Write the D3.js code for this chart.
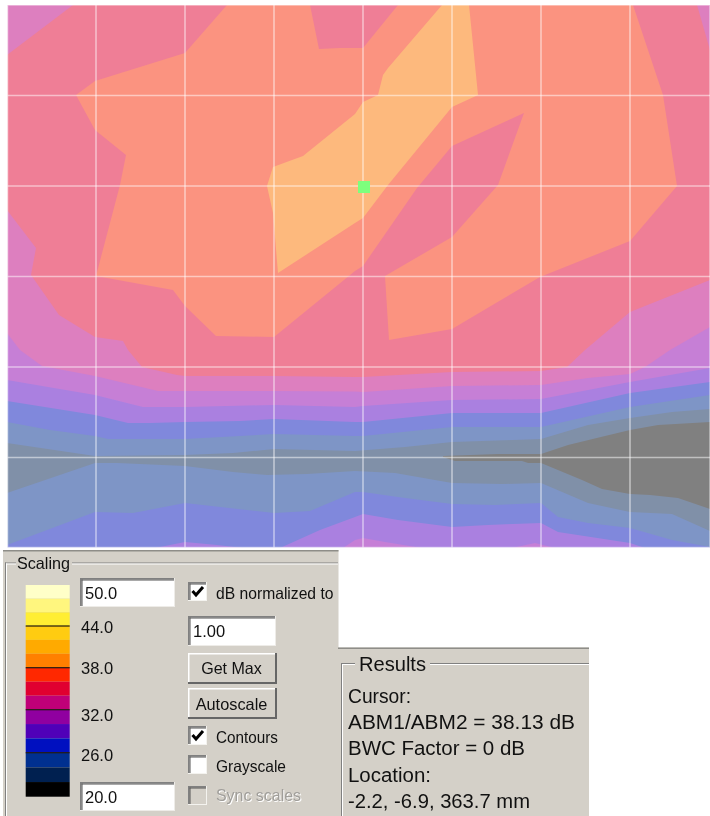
<!DOCTYPE html>
<html><head><meta charset="utf-8">
<script src="https://cdn.jsdelivr.net/npm/d3@7"></script>
<style>html,body{margin:0;padding:0;background:#fff;overflow:hidden}svg{display:block}text{font-family:"Liberation Sans",Arial,sans-serif}</style>
</head><body><svg id="c" width="710" height="816"></svg>
<script>
// --- DATA: scan positions are offsets from the cursor, grid pitch 89 x 90.5 scan units ---
const gridX = [-267,-178,-89,0,89,178,267];
const gridY = [90.5,0,-90.5,-181,-271.5];
const cursorPos = [0,0];

// Legend
const legendLevels = [50,48,46,44,42,40,38,36,34,32,30,28,26,24,22,20];
const legendColors = ["#ffffc8","#fff67e","#ffee33","#ffcc11","#ffaa00","#ff8000","#ff2800","#e00030","#c00078","#9000a0","#5000b8","#0010c0","#003090","#002050","#000000"];
const legendTicks = ["44.0","38.0","32.0","26.0"];
const legendTickLevels = [44,38,32,26];
const legendTickBaseOffsets = [7,6.3,11,8.3];

// Blended map colours, low to high
const bandColors = {low0:"#808080",low1:"#8090a8",low2:"#7e95c6",low3:"#8088dc",low4:"#aa80e0",low5:"#c67fd6",low6:"#dd7fbf",low7:"#ef7e96",low8:"#fb9380",low9:"#fdb97d"};

// Upper boundaries of the valley, [x,y] offsets, left to right
const upper1 = [[-356,-257],[-268,-270],[-178,-269],[-130,-267],[-89,-263],[-8,-265],[42,-261],[89,-256],[178,-253],[225,-239],[267,-232],[309,-226],[347,-223]];
const upper2 = [[-356,-236],[-313,-244],[-268,-250],[-255,-253],[-178,-253],[-123,-250],[-89,-248],[-8,-250],[0,-250],[89,-241],[178,-241],[267,-221],[347,-209]];
const upper3 = [[-356,-215],[-268,-229],[-235,-237],[-213,-237],[-178,-236],[-123,-235],[-89,-233],[-8,-236],[0,-236],[89,-227],[178,-227],[267,-207],[347,-196]];
const upper4 = [[-356,-194],[-268,-209],[-220,-221],[-178,-221],[-89,-219],[-8,-221],[0,-220],[89,-214],[178,-213],[267,-196],[347,-182]];
const upper5 = [[-356,-147],[-343,-164],[-321,-180],[-268,-190],[-205,-205],[-178,-205],[-89,-205],[-8,-205.5],[0,-206],[89,-200],[178,-199],[225,-192],[267,-188],[282,-181],[307,-164],[347,-141]];

// Lower boundaries of the valley
const lower1 = [[-356,-307],[-268,-277],[-246,-277],[-178,-280],[-130,-286],[-96,-289],[-56,-288],[-8,-285],[32,-287],[89,-297],[139,-298],[178,-297],[225,-317],[267,-326],[309,-328],[347,-345]];
const lower2 = [[-356,-359],[-268,-326],[-230,-327],[-178,-317],[-89,-327],[-53,-325],[-8,-306],[0,-306],[42,-312],[89,-318],[132,-319],[178,-317],[195,-331],[225,-337],[267,-342],[309,-354],[347,-361]];
const lower3a = [[-208,-362],[-178,-356],[-146,-359],[-120,-362]];
const lower3b = [[-83,-362],[-43,-344],[-8,-331],[0,-328],[35,-334],[89,-341],[125,-339],[178,-337],[195,-346],[267,-357],[282,-362]];
const lower4a = [[-20,-362],[-8,-354],[0,-352],[22,-356],[59,-362]];
const lower4b = [[149,-362],[172,-357],[192,-362]];

// Gray core (lowest contour)
const coreBand = [[80,-270],[135,-268],[178,-268],[205,-259],[242,-250],[267,-244],[295,-239],[347,-236],[347,-323],[315,-312],[287,-309],[267,-308],[239,-303],[219,-294],[178,-277],[165,-277],[159,-275],[92,-275],[80,-271]];

// Closed upper contours
const band7 = [[-290,181],[-356,131],[-356,-24],[-327,-62],[-332,-89],[-304,-129],[-268,-151],[-240,-155],[-235,-164],[-221,-181],[-186,-189],[-178,-190],[-89,-190],[-8,-191],[0,-191],[89,-186],[178,-185],[204,-181],[222,-164],[267,-126],[347,-94],[347,136],[334,181]];
const band8 = [[-136,181],[-178,133],[-268,105],[-287,91],[-268,56],[-237,31],[-243,1],[-267,-90],[-190,-104],[-178,-120],[-147,-150],[-89,-151],[-8,-85],[0,-80],[54,-2],[89,40],[161,73],[135,1],[89,-51],[22,-90],[26,-154],[89,-143],[177,-91],[267,-55],[314,0],[300,91],[270,181],[35,181],[0,138],[-8,138],[-23,138],[-44,137],[-53,181]];
const band9 = [[79,181],[106,181],[115,91],[89,79],[25,1],[0,-32],[-8,-37],[-85,-87],[-90,-27],[-96,0],[-90,19],[-60,30],[-8,72],[0,84],[15,91],[20,111],[25,118]];

// Text
const scalingTitle = "Scaling";
const resultsTitle = "Results";
const resultsLines = ["Cursor:","ABM1/ABM2 = 38.13 dB","BWC Factor = 0 dB","Location:","-2.2, -6.9, 363.7 mm"];
const maxValue = "50.0", minValue = "20.0", normValue = "1.00";

// --- SCALES ---
const plot = {l:7.5,r:710,t:5,b:547.5};
const x = d3.scaleLinear().domain([-355.5,347]).range([plot.l,plot.r]);
const y = d3.scaleLinear().domain([181,-361.5]).range([plot.t,plot.b]);
const yLegend = d3.scaleLinear().domain([50,44,38,32,26,20]).range([585,626,667.7,709.7,752.7,796.7]);
const line = d3.line().x(d=>x(d[0])).y(d=>y(d[1]));

const svg = d3.select("#c");
const defs = svg.append("defs");
defs.append("clipPath").attr("id","pc").append("rect")
  .attr("x",plot.l).attr("y",plot.t).attr("width",plot.r-plot.l).attr("height",plot.b-plot.t);
function blurFilter(id,sd){
  const f = defs.append("filter").attr("id",id).attr("filterUnits","userSpaceOnUse")
    .attr("x",0).attr("y",0).attr("width",710).attr("height",816).attr("color-interpolation-filters","sRGB");
  f.append("feGaussianBlur").attr("stdDeviation",sd);
}
blurFilter("soft",0.45);
blurFilter("softMap",0.4);

const map = svg.append("g").attr("clip-path","url(#pc)").append("g").attr("filter","url(#softMap)");
const xMin=-360,xMax=352,yTop=186,yBot=-370;
const ring = d=> line(d)+"Z";
const upperArea = d=> ring([[d[0][0]-5,d[0][1]],...d,[xMax,d[d.length-1][1]],[xMax,yTop],[xMin,yTop]]);
const lowerArea = d=> ring([[xMin,d[0][1]],...d,[xMax,d[d.length-1][1]],[xMax,yBot],[xMin,yBot]]);
const openBottom = d=> ring([...d,[d[d.length-1][0],yBot],[d[0][0],yBot]]);

map.append("rect").attr("x",plot.l-4).attr("y",plot.t-4).attr("width",plot.r-plot.l+8).attr("height",plot.b-plot.t+8).attr("fill",bandColors.low1);
const drawBand=(path,c)=>map.append("path").attr("d",path).attr("fill",c);

drawBand(upperArea(upper1),bandColors.low2);
drawBand(lowerArea(lower1),bandColors.low2);
drawBand(upperArea(upper2),bandColors.low3);
drawBand(lowerArea(lower2),bandColors.low3);
drawBand(upperArea(upper3),bandColors.low4);
drawBand(openBottom(lower3a),bandColors.low4);
drawBand(openBottom(lower3b),bandColors.low4);
drawBand(upperArea(upper4),bandColors.low5);
drawBand(openBottom(lower4a),bandColors.low5);
drawBand(openBottom(lower4b),bandColors.low5);
drawBand(upperArea(upper5),bandColors.low6);
drawBand(ring(band7),bandColors.low7);
drawBand(ring(band8),bandColors.low8);
drawBand(ring(band9),bandColors.low9);
drawBand(ring(coreBand),bandColors.low0);

// grid
const gridG = map.append("g").attr("stroke","#fff").attr("stroke-opacity",0.5).attr("stroke-width",1.6);
gridG.selectAll("line.v").data(gridX).join("line").attr("x1",d=>x(d)).attr("x2",d=>x(d)).attr("y1",plot.t).attr("y2",plot.b);
gridG.selectAll("line.h").data(gridY).join("line").attr("y1",d=>y(d)).attr("y2",d=>y(d)).attr("x1",plot.l).attr("x2",plot.r);
map.append("rect").attr("x",plot.l).attr("y",plot.t).attr("width",plot.r-plot.l).attr("height",plot.b-plot.t).attr("fill","none").attr("stroke","#fff").attr("stroke-opacity",0.5).attr("stroke-width",1.5);

// cursor marker
map.append("rect").attr("x",x(cursorPos[0])-5).attr("y",y(cursorPos[1])-5).attr("width",12).attr("height",12).attr("fill","#7dff7d");

// --- PANELS ---
const ui = svg.append("g").attr("filter","url(#soft)");
const FACE="#d4d0c8", DARK="#808080";
function rect(g,a,b,w,h,f){return g.append("rect").attr("x",a).attr("y",b).attr("width",w).attr("height",h).attr("fill",f);}
function hl(a,b,w,c,t=1){rect(ui,a,b,w,t,c);}
function vl(a,b,h,c,t=1){rect(ui,a,b,t,h,c);}

rect(ui,3,550,335.5,270,FACE);
rect(ui,338,647.5,251,172,FACE);
hl(3,550,335.5,"#8e8d88",1.5);
hl(338,647.5,251,"#8e8d88",1.5);

function groupBox(a,b,w,titleX,titleW){
  hl(a,b,titleX-a,DARK); hl(a,b+1,titleX-a,"#fff");
  hl(titleX+titleW,b,w-(titleX+titleW-a),DARK); hl(titleX+titleW,b+1,w-(titleX+titleW-a),"#fff");
  vl(a,b,820-b,DARK); vl(a+1,b+1,820-b,"#fff");
}
groupBox(5,562.5,333,16,56);
groupBox(341,663,248,355,75);

function label(txt,a,b,size,col,width){
  const t=ui.append("text").attr("x",a).attr("y",b).attr("font-size",size).attr("fill",col||"#111").text(txt);
  if(width) t.attr("textLength",width).attr("lengthAdjust","spacingAndGlyphs");
  return t;
}
label(scalingTitle,17,569,16.5,null,53);
label(resultsTitle,359,671,20,null,67);

// legend bar through its scale
ui.selectAll("rect.leg").data(legendColors).join("rect")
  .attr("x",25.7).attr("width",44)
  .attr("y",(d,i)=>yLegend(legendLevels[i]))
  .attr("height",(d,i)=>yLegend(legendLevels[i+1])-yLegend(legendLevels[i]))
  .attr("fill",d=>d);
ui.selectAll("rect.tick").data(legendTickLevels).join("rect")
  .attr("x",25.7).attr("width",44).attr("height",1.2).attr("fill","#221a10")
  .attr("y",d=>yLegend(d)-0.6);
legendTicks.forEach((t,i)=>label(t,81,yLegend(legendTickLevels[i])+legendTickBaseOffsets[i],16.5));

function sunken(a,b,w,h,txt){
  rect(ui,a,b,w,h,"#fff");
  hl(a,b,w,DARK,1.5); vl(a,b,h,DARK,1.5);
  hl(a+1.5,b+1.5,w-2,"#555"); vl(a+1.5,b+1.5,h-2,"#555");
  hl(a,b+h-1,w,"#eeece8",1); vl(a+w-1,b,h,"#eeece8",1);
  if(txt) label(txt,a+5,b+21,16.5);
}
sunken(80,578,95,29,maxValue);
sunken(80,782,95,29,minValue);
sunken(188,616,88,30,normValue);

function button(a,b,w,h,txt,base,width){
  rect(ui,a,b,w,h,FACE);
  hl(a,b,w,"#fff",1.5); vl(a,b,h,"#fff",1.5);
  hl(a,b+h-2,w,"#666",2); vl(a+w-2,b,h,"#666",2);
  ui.append("text").attr("x",a+w/2-1).attr("y",base).attr("text-anchor","middle").attr("font-size",16.5).attr("fill","#111")
    .attr("textLength",width).attr("lengthAdjust","spacingAndGlyphs").text(txt);
}
button(188,653,89,31,"Get Max",674,60.7);
button(188,688,89,31,"Autoscale",710,71.7);

function checkbox(a,b,checked,txt,base,width,disabled){
  rect(ui,a,b,19,19,disabled?FACE:"#fff");
  hl(a,b,19,DARK,1.5); vl(a,b,19,DARK,1.5);
  hl(a+1.5,b+1.5,17,"#555"); vl(a+1.5,b+1.5,17,"#555");
  hl(a,b+18,19,"#f4f3ef",1); vl(a+18,b,19,"#f4f3ef",1);
  if(checked) ui.append("path").attr("d",`M${a+4.5},${b+9} L${a+8},${b+13} L${a+15},${b+5}`).attr("fill","none").attr("stroke","#000").attr("stroke-width",3);
  if(disabled){ label(txt,217,base+1,16.5,"#fff",width); label(txt,216,base,16.5,"#a09e9a",width); }
  else label(txt,216,base,16.5,null,width);
}
checkbox(188,582,true,"dB normalized to",599,117.5);
checkbox(188,726,true,"Contours",743,62);
checkbox(188,755,false,"Grayscale",772,70);
checkbox(188,786,false,"Sync scales",801,85,true);

const resultBase = [703,729,755,782,808];
const resultWidths = [63,227,177,83,182];
resultsLines.forEach((t,i)=>label(t,348,resultBase[i],20,null,resultWidths[i]));
</script></body></html>
